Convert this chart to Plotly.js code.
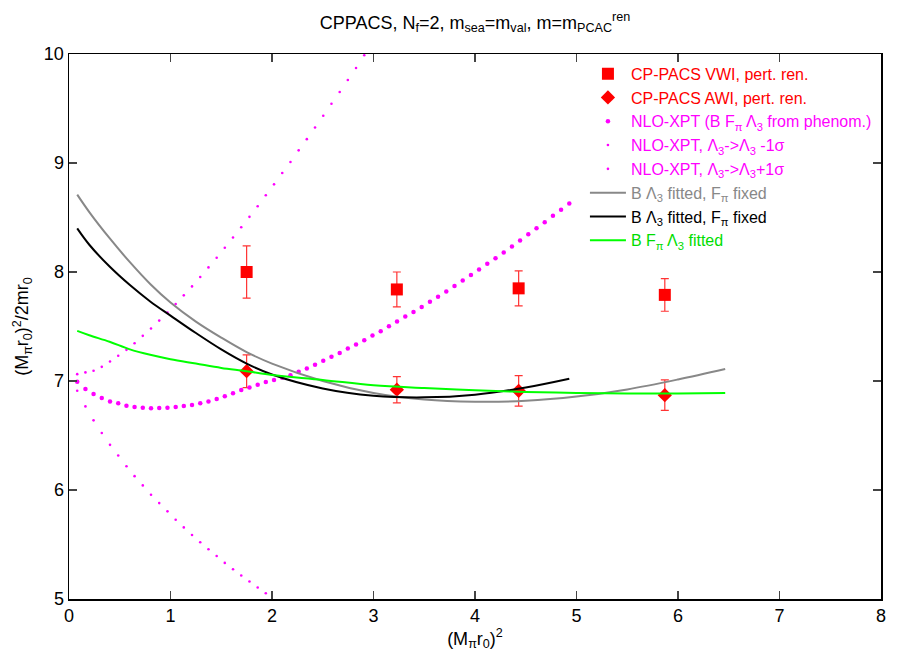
<!DOCTYPE html>
<html>
<head>
<meta charset="utf-8">
<script src="https://cdn.plot.ly/plotly-3.0.1.min.js"></script>
<style>html,body{margin:0;padding:0;background:#fff}#chart{width:913px;height:654px}</style>
</head>
<body>
<div id="chart"></div>
<script>
// ---- data ----
const vwiX = [1.75, 3.23, 4.43, 5.87];
const vwiY = [8.00, 7.84, 7.85, 7.79];
const vwiErr = [0.24, 0.16, 0.16, 0.15];

const awiX = [1.75, 3.23, 4.43, 5.87];
const awiY = [7.09, 6.92, 6.91, 6.87];
const awiErr = [0.15, 0.12, 0.14, 0.14];

// sample abscissae of the plotted functions (dots)
const sampleX = [0.081,0.162,0.242,0.323,0.404,0.485,0.566,0.646,0.727,0.808,
  0.889,0.970,1.051,1.131,1.212,1.293,1.374,1.455,1.535,1.616,
  1.697,1.778,1.859,1.939,2.020,2.101,2.182,2.263,2.343,2.424,
  2.505,2.586,2.667,2.747,2.828,2.909,2.990,3.071,3.152,3.232,
  3.313,3.394,3.475,3.556,3.636,3.717,3.798,3.879,3.960,4.040,
  4.121,4.202,4.283,4.364,4.444,4.525,4.606,4.687,4.768,4.848,4.929];

const nloCentral = [6.993,6.926,6.880,6.843,6.813,6.795,6.773,6.761,6.755,6.749,
  6.752,6.755,6.761,6.770,6.780,6.795,6.813,6.834,6.859,6.887,
  6.917,6.941,6.965,6.990,7.010,7.030,7.052,7.084,7.115,7.148,
  7.185,7.222,7.258,7.298,7.335,7.374,7.417,7.457,7.502,7.545,
  7.591,7.633,7.679,7.728,7.774,7.822,7.871,7.923,7.972,8.024,
  8.076,8.127,8.179,8.234,8.289,8.347,8.402,8.457,8.515,8.570,8.628];

const nloMinus = [7.063,7.079,7.094,7.130,7.179,7.231,7.286,7.347,7.414,7.481,
  7.554,7.627,7.707,7.786,7.868,7.954,8.042,8.131,8.222,8.317,
  8.411,8.506,8.603,8.704,8.804,8.908,9.009,9.116,9.219,9.326,
  9.433,9.543,9.652,9.762,9.872,9.988];

const nloPlus = [6.911,6.767,6.639,6.523,6.414,6.316,6.218,6.127,6.042,5.956,
  5.880,5.804,5.727,5.657,5.587,5.520,5.456,5.395,5.331,5.273,
  5.215,5.160,5.105,5.053];

const grayX = [0.081,0.2,0.4,0.6,0.8,1.0,1.25,1.5,1.75,2.0,2.5,3.0,3.5,4.0,4.5,5.0,5.5,6.0,6.465];
const grayY = [8.71,8.55,8.31,8.09,7.89,7.72,7.545,7.398,7.265,7.16,7.00,6.89,6.83,6.81,6.818,6.857,6.923,7.014,7.11];

const blackX = [0.081,0.2,0.4,0.6,0.8,1.0,1.25,1.5,1.75,2.0,2.5,3.0,3.5,4.0,4.5,4.929];
const blackY = [8.40,8.25,8.05,7.88,7.73,7.60,7.44,7.29,7.16,7.06,6.932,6.865,6.85,6.875,6.94,7.02];

const greenX = [0.081,0.2,0.4,0.6,0.8,1.0,1.25,1.5,1.75,2.0,2.5,3.0,3.5,4.0,4.5,5.0,5.5,6.0,6.465];
const greenY = [7.46,7.42,7.36,7.29,7.24,7.20,7.16,7.12,7.09,7.055,7.01,6.96,6.935,6.915,6.90,6.89,6.885,6.885,6.89];

const xTicks = [0,1,2,3,4,5,6,7,8];
const yTicks = [5,6,7,8,9,10];

const names = [
  '<span style="color:#ff0000">CP-PACS VWI, pert. ren.</span>',
  '<span style="color:#ff0000">CP-PACS AWI, pert. ren.</span>',
  '<span style="color:#ff00ff">NLO-XPT (B F<sub>π</sub> Λ<sub>3</sub> from phenom.)</span>',
  '<span style="color:#ff00ff">NLO-XPT, Λ<sub>3</sub>->Λ<sub>3</sub> -1σ</span>',
  '<span style="color:#ff00ff">NLO-XPT, Λ<sub>3</sub>->Λ<sub>3</sub>+1σ</span>',
  '<span style="color:#888888">B Λ<sub>3</sub> fitted, F<sub>π</sub> fixed</span>',
  '<span style="color:#000000">B Λ<sub>3</sub> fitted, F<sub>π</sub> fixed</span>',
  '<span style="color:#00dd00">B F<sub>π</sub> Λ<sub>3</sub> fitted</span>'
];

const traces = [
  {x: vwiX, y: vwiY, name: names[0], type: 'scatter', mode: 'markers',
   marker: {symbol: 'square', size: 12, color: '#ff0000'},
   error_y: {type: 'data', array: vwiErr, visible: true, color: '#ff3333', thickness: 1.2, width: 4}},
  {x: awiX, y: awiY, name: names[1], type: 'scatter', mode: 'markers',
   marker: {symbol: 'diamond', size: 11, color: '#ff0000'},
   error_y: {type: 'data', array: awiErr, visible: true, color: '#ff3333', thickness: 1.2, width: 4}},
  {x: sampleX.slice(0, nloCentral.length), y: nloCentral, name: names[2], type: 'scatter', mode: 'markers',
   marker: {symbol: 'circle', size: 4.5, color: '#ff00ff'}},
  {x: sampleX.slice(0, nloMinus.length), y: nloMinus, name: names[3], type: 'scatter', mode: 'markers',
   marker: {symbol: 'circle', size: 2.6, color: '#ff00ff'}},
  {x: sampleX.slice(0, nloPlus.length), y: nloPlus, name: names[4], type: 'scatter', mode: 'markers',
   marker: {symbol: 'circle', size: 2.6, color: '#ff00ff'}},
  {x: grayX, y: grayY, name: names[5], type: 'scatter', mode: 'lines',
   line: {color: '#888888', width: 2, shape: 'spline'}},
  {x: blackX, y: blackY, name: names[6], type: 'scatter', mode: 'lines',
   line: {color: '#000000', width: 2, shape: 'spline'}},
  {x: greenX, y: greenY, name: names[7], type: 'scatter', mode: 'lines',
   line: {color: '#00ff00', width: 2, shape: 'spline'}}
];

const fam = 'Liberation Sans, Arial, Helvetica, sans-serif';

const layout = {
  width: 913, height: 654,
  margin: {l: 69, r: 32, t: 54, b: 55},
  paper_bgcolor: '#fff', plot_bgcolor: '#fff',
  font: {family: fam, size: 18, color: '#000'},
  title: {text: 'CPPACS, N<sub>f</sub>=2, m<sub>sea</sub>=m<sub>val</sub>, m=m<sub>PCAC</sub><sup>ren</sup>',
          x: 0.5, xref: 'paper', y: 0.966, yref: 'container', yanchor: 'middle',
          font: {family: fam, size: 18, color: '#000'}},
  xaxis: {range: [0, 8], tickvals: xTicks, ticks: 'inside', ticklen: 8, tickwidth: 1.5,
          showline: true, linecolor: '#000', linewidth: 1.5, mirror: 'ticks', showgrid: false, zeroline: false,
          tickfont: {family: fam, size: 18},
          title: {text: '(M<sub>π</sub>r<sub>0</sub>)<sup>2</sup>', standoff: 0, font: {family: fam, size: 18}}},
  yaxis: {range: [5, 10], tickvals: yTicks, ticks: 'inside', ticklen: 8, tickwidth: 1.5,
          showline: true, linecolor: '#000', linewidth: 1.5, mirror: 'ticks', showgrid: false, zeroline: false,
          tickfont: {family: fam, size: 18},
          title: {text: '(M<sub>π</sub>r<sub>0</sub>)<sup>2</sup>/2mr<sub>0</sub>', standoff: 10, font: {family: fam, size: 18}}},
  showlegend: true,
  legend: {x: 0.995, xanchor: 'right', y: 0.995, yanchor: 'top', bgcolor: 'rgba(0,0,0,0)',
           font: {family: fam, size: 16}, tracegroupgap: 0, itemwidth: 36}
};

Plotly.newPlot('chart', traces, layout, {displayModeBar: false, staticPlot: true});
</script>
</body>
</html>
